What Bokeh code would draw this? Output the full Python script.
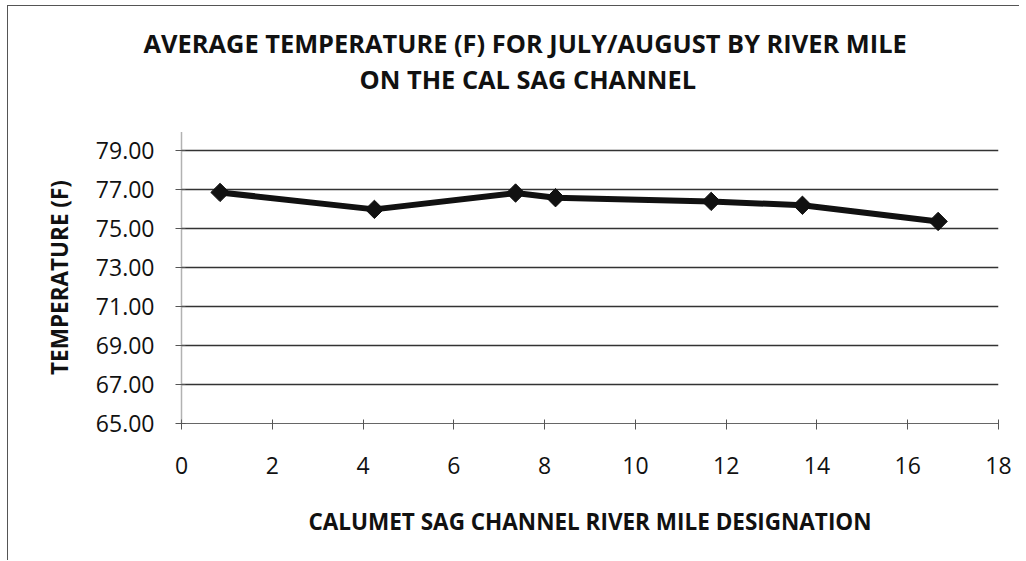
from bokeh.plotting import figure
from bokeh.models import Title, FixedTicker, NumeralTickFormatter, Range1d
from bokeh.embed import file_html
from bokeh.resources import INLINE

river_mile = [0.85, 4.25, 7.36, 8.24, 11.67, 13.68, 16.67]
avg_temp_f = [76.87, 76.00, 76.84, 76.60, 76.41, 76.21, 75.38]
y_ticks = [65, 67, 69, 71, 73, 75, 77, 79]
x_ticks = [0, 2, 4, 6, 8, 10, 12, 14, 16, 18]

title_1 = "AVERAGE TEMPERATURE (F) FOR JULY/AUGUST BY RIVER MILE"
title_2 = "ON THE CAL SAG CHANNEL"
x_label = "CALUMET SAG CHANNEL RIVER MILE DESIGNATION"
y_label = "TEMPERATURE (F)"

FONT = "Open Sans"

p = figure(width=1012, height=555, output_backend="svg", toolbar_location=None,
           x_range=Range1d(0, 18), y_range=Range1d(65, 80),
           min_border_left=173, min_border_right=22, min_border_top=125, min_border_bottom=138)
p.styles = {"border-left": "1px solid #555555", "border-top": "1px solid #555555",
            "margin-left": "7px", "margin-top": "5px"}

# spacer (nearest the frame), then line 2, then line 1 (p.title is furthest)
p.title.text = title_1
p.title.align = "left"
p.title.offset = -38
p.title.text_font = FONT
p.title.text_font_size = "25.4px"
p.title.text_font_style = "bold"
p.title.text_color = "#111111"
p.title.standoff = 0
p.add_layout(Title(text=" ", text_font_size="1px", standoff=33), "above")
p.add_layout(Title(text=title_2, align="left", offset=178, text_font=FONT,
                   text_font_size="25.4px", text_font_style="bold", text_color="#111111",
                   standoff=0), "above")

p.outline_line_color = None
p.background_fill_color = "white"
p.border_fill_color = "white"

p.xgrid.grid_line_color = None
p.ygrid.ticker = FixedTicker(ticks=y_ticks)
p.ygrid.grid_line_color = "#333333"
p.ygrid.grid_line_width = 1.3

p.xaxis.ticker = FixedTicker(ticks=x_ticks)
p.yaxis.ticker = FixedTicker(ticks=y_ticks)
p.yaxis.formatter = NumeralTickFormatter(format="0.00")

for ax in (p.xaxis, p.yaxis):
    ax.major_label_text_font = FONT
    ax.major_label_text_font_size = "23px"
    ax.major_label_text_color = "#111111"
    ax.axis_label_text_font = FONT
    ax.axis_label_text_font_size = "22.5px"
    ax.axis_label_text_font_style = "bold"
    ax.axis_label_text_color = "#111111"
    ax.minor_tick_line_color = None
    ax.major_tick_in = 4
    ax.major_tick_out = 6
    ax.major_tick_line_color = "#555555"
    ax.axis_line_color = "#666666"

p.xaxis.axis_label = x_label
p.yaxis.axis_label = y_label
p.yaxis.axis_line_dash = "1 1"
p.yaxis.axis_line_width = 1.5
p.xaxis.major_label_standoff = 27
p.xaxis.axis_label_standoff = 29
p.yaxis.major_label_standoff = 21
p.yaxis.axis_label_standoff = 18

p.line(river_mile, avg_temp_f, line_color="#111111", line_width=6)
p.scatter(river_mile, avg_temp_f, marker="square", angle=0.785, size=13,
          fill_color="#111111", line_color="#111111")

open("out.html", "w").write(file_html(p, INLINE))
